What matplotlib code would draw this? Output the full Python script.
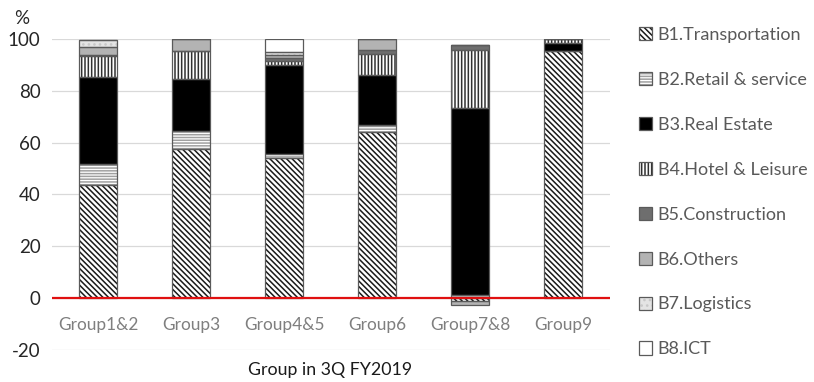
"""Stacked share of business segments by group, 3Q FY2019."""

import matplotlib
matplotlib.use("Agg")
import matplotlib.pyplot as plt  # noqa: E402
from matplotlib.patches import Patch  # noqa: E402
import numpy as np  # noqa: E402

GROUPS = ["Group1&2", "Group3", "Group4&5", "Group6", "Group7&8", "Group9"]
SEGMENTS = ["B1.Transportation", "B2.Retail & service", "B3.Real Estate",
            "B4.Hotel & Leisure", "B5.Construction", "B6.Others",
            "B7.Logistics", "B8.ICT"]

# shares (%) per segment, one value per group
B1 = [43.8, 57.5, 54.0, 64.0, -1.0, 95.5]
B2 = [7.9, 7.0, 1.5, 3.0, 1.2, 0.0]
B3 = [33.6, 20.0, 34.5, 19.0, 72.2, 3.0]
B4 = [8.0, 11.0, 1.5, 8.2, 22.4, 1.5]
B5 = [0.6, 0.0, 1.0, 1.5, 1.9, 0.0]
B6 = [3.1, 4.5, 1.5, 4.3, -1.7, 0.0]
B7 = [2.7, 0.0, 1.0, 0.0, 0.0, 0.0]
B8 = [0.0, 0.0, 5.0, 0.0, 0.0, 0.0]

Y_TICKS = [-20, 0, 20, 40, 60, 80, 100]

# (facecolor, hatch, hatch colour) per segment
STYLES = [
    ("white", "\\" * 6, "#1a1a1a"),
    ("white", "-" * 6, "#a0a0a0"),
    ("black", "", "black"),
    ("white", "|" * 5, "#303030"),
    ("#6e6e6e", "", "#6e6e6e"),
    ("#b3b3b3", "", "#b3b3b3"),
    ("#e4e4e4", "...", "#c8c8c8"),
    ("white", "", "white"),
]
OUTLINE = "#5a5a5a"
FONT = "Lato"

plt.rcParams["font.family"] = [FONT, "DejaVu Sans"]
plt.rcParams["hatch.linewidth"] = 1.1
plt.rcParams["axes.unicode_minus"] = False

fig = plt.figure(figsize=(8.14, 3.82), dpi=100)
ax = fig.add_axes([0.0633, 0.0838, 0.6855, 0.8141])

x = np.arange(len(GROUPS))
width = 0.41
pos_base = np.zeros(len(GROUPS))
neg_base = np.zeros(len(GROUPS))
handles = []
for vals, (fc, hatch, hc) in zip([B1, B2, B3, B4, B5, B6, B7, B8], STYLES):
    v = np.array(vals, dtype=float)
    bottom = np.where(v >= 0, pos_base, neg_base)
    ax.bar(x, v, width, bottom=bottom, color=fc, hatch=hatch,
           edgecolor=hc, linewidth=0, zorder=2)
    ax.bar(x, v, width, bottom=bottom, fill=False, edgecolor=OUTLINE,
           linewidth=0.9, zorder=3)
    pos_base += np.where(v >= 0, v, 0)
    neg_base += np.where(v < 0, v, 0)
    # legend swatch: hatched fill with a grey outline drawn over it
    handles.append((Patch(facecolor=fc, hatch=hatch, edgecolor=hc, lw=0),
                    Patch(fill=False, edgecolor=OUTLINE, lw=0.9)))

ax.axhline(0, color="#e01010", lw=1.6, zorder=4)
ax.set_xlim(-0.5, len(GROUPS) - 0.5)
ax.set_ylim(-20, 100)
ax.set_yticks(Y_TICKS)
ax.tick_params(axis="y", length=0, labelsize=13.5, labelcolor="#262626",
               pad=8)
ax.set_xticks([])
ax.grid(axis="y", color="#d9d9d9", lw=0.9, zorder=0)
for s in ax.spines.values():
    s.set_visible(False)

for i, g in enumerate(GROUPS):
    ax.text(i, -10.4, g, ha="center", va="center", fontsize=12.4,
            color="#7f7f7f")

ax.text(0.5, -0.064, "Group in 3Q FY2019", transform=ax.transAxes,
        ha="center", va="center", fontsize=12.8, color="#1a1a1a")
fig.text(0.027, 1 - 18 / 382, "%", ha="center", va="center", fontsize=13.5,
         color="#262626")

leg = fig.legend(handles, SEGMENTS, loc="upper left",
                 bbox_to_anchor=(0.776, 0.948), frameon=False,
                 handlelength=0.75, handleheight=0.75, handletextpad=0.3,
                 labelspacing=1.6, fontsize=13, borderaxespad=0)
for t in leg.get_texts():
    t.set_color("#595959")

fig.savefig("out.png", dpi=100)
